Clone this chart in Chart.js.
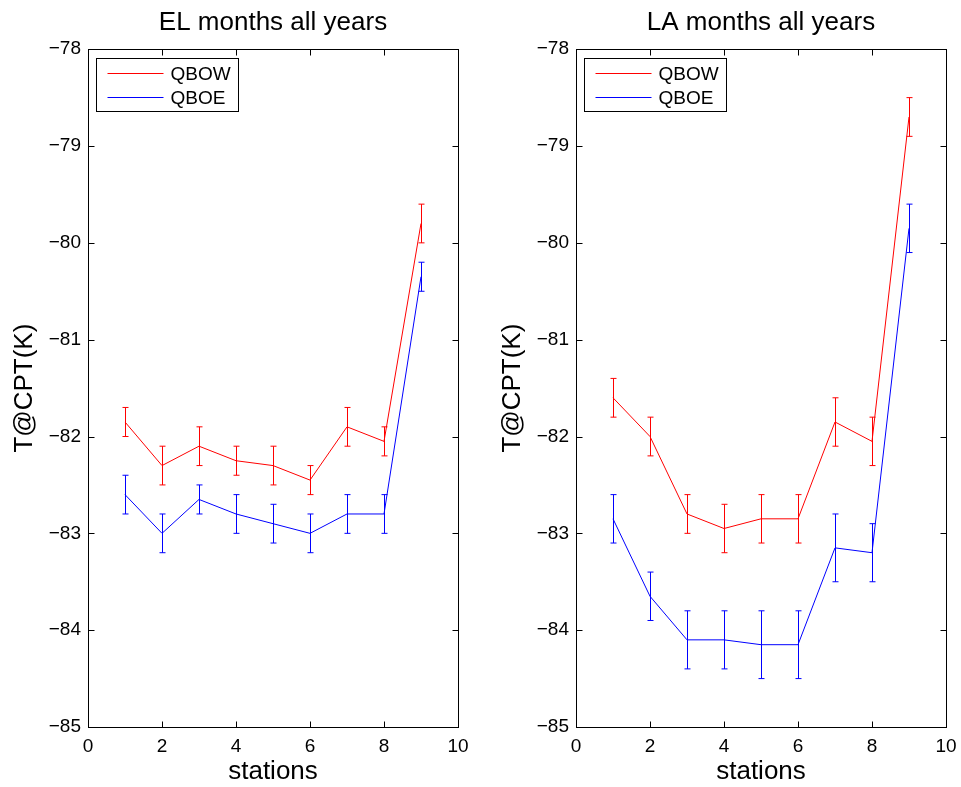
<!DOCTYPE html>
<html>
<head>
<meta charset="utf-8">
<script src="https://cdn.jsdelivr.net/npm/chart.js@4/dist/chart.umd.min.js"></script>
<style>
  body { margin: 0; background: #fff; overflow: hidden; width: 961px; height: 787px; position: relative; }
  .box { position: absolute; top: 0; width: 474px; height: 787px; }
</style>
</head>
<body>
<div class="box" style="left:0px"><canvas id="chartEL"></canvas></div>
<div class="box" style="left:488px"><canvas id="chartLA"></canvas></div>
<script>
// station numbers
var stations = [1, 2, 3, 4, 5, 6, 7, 8, 9];

// EL months, all years
var elQbow = [-81.85, -82.3, -82.1, -82.25, -82.3, -82.45, -81.9, -82.05, -79.8];
var elQbowErr = [0.15, 0.2, 0.2, 0.15, 0.2, 0.15, 0.2, 0.15, 0.2];
var elQboe = [-82.6, -83.0, -82.65, -82.8, -82.9, -83.0, -82.8, -82.8, -80.35];
var elQboeErr = [0.2, 0.2, 0.15, 0.2, 0.2, 0.2, 0.2, 0.2, 0.15];

// LA months, all years
var laQbow = [-81.6, -82.0, -82.8, -82.95, -82.85, -82.85, -81.85, -82.05, -78.7];
var laQbowErr = [0.2, 0.2, 0.2, 0.25, 0.25, 0.25, 0.25, 0.25, 0.2];
var laQboe = [-82.85, -83.65, -84.1, -84.1, -84.15, -84.15, -83.15, -83.2, -79.85];
var laQboeErr = [0.25, 0.25, 0.3, 0.3, 0.35, 0.35, 0.35, 0.3, 0.25];

var xTicks = [0, 2, 4, 6, 8, 10];
var yTicks = [-85, -84, -83, -82, -81, -80, -79, -78];

var FONT = "'Liberation Sans', Arial, Helvetica, sans-serif";

function minus(v) {
  return v < 0 ? "\u2212" + Math.abs(v) : "" + v;
}

// error bars drawn through the scales
var errorBars = {
  id: "errorBars",
  afterDatasetsDraw: function (chart) {
    var ctx = chart.ctx,
      xs = chart.scales.x,
      ys = chart.scales.y;
    ctx.save();
    ctx.lineWidth = 1;
    chart.data.datasets.forEach(function (ds) {
      ctx.strokeStyle = ds.borderColor;
      ds.data.forEach(function (p, i) {
        var e = ds.errors[i];
        var x = Math.round(xs.getPixelForValue(p.x)) + 0.5;
        var yt = ys.getPixelForValue(p.y + e),
          yb = ys.getPixelForValue(p.y - e);
        ctx.beginPath();
        ctx.moveTo(x, yt);
        ctx.lineTo(x, yb);
        ctx.moveTo(x - 3, yt);
        ctx.lineTo(x + 3, yt);
        ctx.moveTo(x - 3, yb);
        ctx.lineTo(x + 3, yb);
        ctx.stroke();
      });
    });
    ctx.restore();
  },
};

// matlab style box with inward ticks + legend box
var boxAndLegend = {
  id: "boxAndLegend",
  afterDraw: function (chart) {
    var ctx = chart.ctx,
      a = chart.chartArea,
      xs = chart.scales.x,
      ys = chart.scales.y;
    ctx.save();
    ctx.strokeStyle = "#000";
    ctx.lineWidth = 1;
    var l = Math.round(a.left) + 0.5,
      r = Math.round(a.right) + 0.5,
      t = Math.round(a.top) + 0.5,
      b = Math.round(a.bottom) + 0.5;
    ctx.strokeRect(l, t, r - l, b - t);
    ctx.beginPath();
    xTicks.forEach(function (v) {
      var x = Math.round(xs.getPixelForValue(v)) + 0.5;
      ctx.moveTo(x, b);
      ctx.lineTo(x, b - 6);
      ctx.moveTo(x, t);
      ctx.lineTo(x, t + 6);
    });
    yTicks.forEach(function (v) {
      var y = Math.round(ys.getPixelForValue(v)) + 0.5;
      ctx.moveTo(l, y);
      ctx.lineTo(l + 6, y);
      ctx.moveTo(r, y);
      ctx.lineTo(r - 6, y);
    });
    ctx.stroke();

    // legend
    var lx = l + 8, ly = t + 9, lw = 142, lh = 53;
    ctx.fillStyle = "#fff";
    ctx.fillRect(lx, ly, lw, lh);
    ctx.strokeRect(lx, ly, lw, lh);
    ctx.font = "19px " + FONT;
    ctx.textBaseline = "middle";
    chart.data.datasets.forEach(function (ds, i) {
      var y = Math.round(ly + 14 + i * 24.5) + 0.5;
      ctx.strokeStyle = ds.borderColor;
      ctx.beginPath();
      ctx.moveTo(lx + 11, y);
      ctx.lineTo(lx + 67, y);
      ctx.stroke();
      ctx.fillStyle = "#000";
      ctx.fillText(ds.label, lx + 74, y + 1);
    });
    ctx.restore();
  },
};

function makeData(vals) {
  return stations.map(function (s, i) {
    return { x: s, y: vals[i] };
  });
}

function makeChart(id, title, qbow, qbowErr, qboe, qboeErr) {
  return new Chart(document.getElementById(id), {
    type: "line",
    data: {
      datasets: [
        { label: "QBOW", data: makeData(qbow), errors: qbowErr, borderColor: "#ff0000", borderWidth: 1, pointRadius: 0, tension: 0 },
        { label: "QBOE", data: makeData(qboe), errors: qboeErr, borderColor: "#0000ff", borderWidth: 1, pointRadius: 0, tension: 0 },
      ],
    },
    options: {
      responsive: true,
      maintainAspectRatio: false,
      animation: false,
      layout: { padding: { left: 0, right: 16, top: 0, bottom: 0 } },
      plugins: {
        legend: { display: false },
        tooltip: { enabled: false },
        title: {
          display: true,
          fullSize: false,
          text: title,
          color: "#000",
          font: { family: FONT, size: 26, weight: "normal" },
          padding: { top: 7, bottom: 11 },
        },
      },
      scales: {
        x: {
          type: "linear",
          min: 0,
          max: 10,
          afterBuildTicks: function (s) {
            s.ticks = xTicks.map(function (v) { return { value: v }; });
          },
          afterFit: function (s) {
            s.height = 60;
            s.paddingLeft = 0;
            s.paddingRight = 0;
          },
          grid: { display: false, drawTicks: false },
          border: { display: false },
          ticks: { color: "#000", font: { family: FONT, size: 19 }, padding: 8, maxRotation: 0, callback: minus },
          title: { display: true, text: "stations", color: "#000", font: { family: FONT, size: 26 }, padding: { top: 0, bottom: 0 } },
        },
        y: {
          min: -85,
          max: -78,
          afterBuildTicks: function (s) {
            s.ticks = yTicks.map(function (v) { return { value: v }; });
          },
          afterFit: function (s) {
            s.width = 88;
            s.paddingTop = 0;
            s.paddingBottom = 0;
          },
          grid: { display: false, drawTicks: false },
          border: { display: false },
          ticks: { color: "#000", font: { family: FONT, size: 19 }, padding: 7, callback: minus },
          title: { display: true, text: "T@CPT(K)", color: "#000", font: { family: FONT, size: 26 }, padding: { top: 9, bottom: 0 } },
        },
      },
    },
    plugins: [errorBars, boxAndLegend],
  });
}

makeChart("chartEL", "EL months all years", elQbow, elQbowErr, elQboe, elQboeErr);
makeChart("chartLA", "LA months all years", laQbow, laQbowErr, laQboe, laQboeErr);
</script>
</body>
</html>
